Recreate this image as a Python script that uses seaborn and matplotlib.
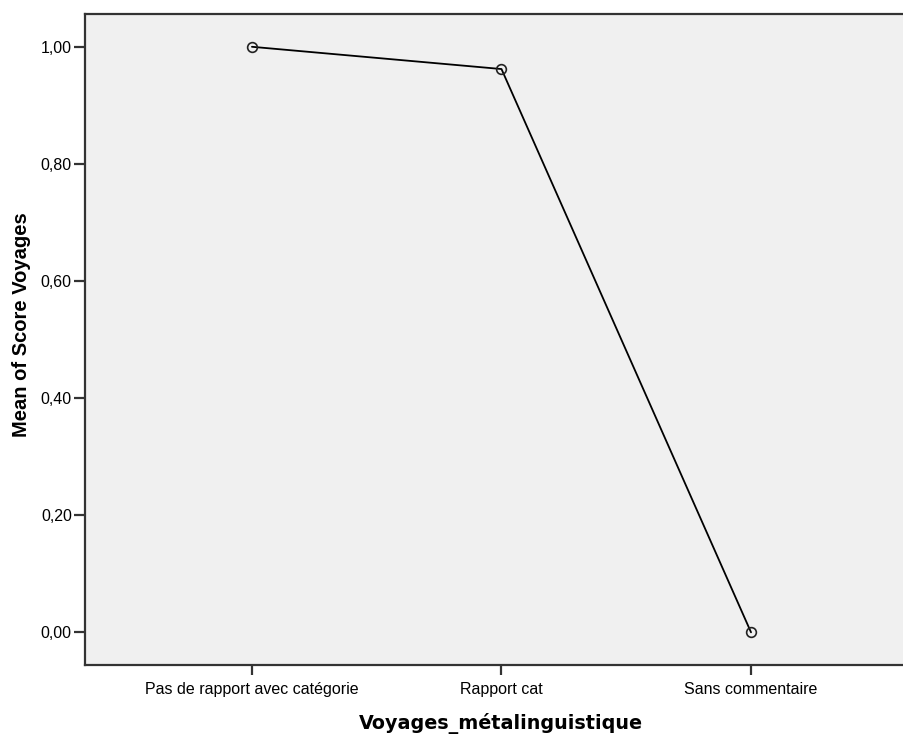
import matplotlib
matplotlib.use("Agg")
import matplotlib.pyplot as plt
import seaborn as sns
import pandas as pd

categories = ["Pas de rapport avec catégorie", "Rapport cat", "Sans commentaire"]
means = [1.00, 0.962, 0.00]
yticks = [0.0, 0.2, 0.4, 0.6, 0.8, 1.0]
ytick_labels = ["0,00", "0,20", "0,40", "0,60", "0,80", "1,00"]

sns.set_style("white")
plt.rcParams["font.family"] = ["Liberation Sans", "DejaVu Sans"]
plt.rcParams["text.color"] = "black"
plt.rcParams["axes.labelcolor"] = "black"

df = pd.DataFrame({"cat": categories, "val": means})

fig = plt.figure(figsize=(9.04, 7.36), dpi=100)
ax = fig.add_axes([85/904, (736-665)/736, (904-85)/904, (665-14)/736])
ax.set_facecolor("#f0f0f0")

sns.lineplot(data=df, x="cat", y="val", ax=ax, color="black", linewidth=1.3,
             marker="o", markersize=7, markerfacecolor="none",
             markeredgecolor="#222222", markeredgewidth=1.2, sort=False)

ax.set_xlim(-0.669, 2.613)
ax.set_ylim(-0.0558, 1.056)
ax.set_yticks(yticks)
ax.set_yticklabels(ytick_labels)
ax.set_xticks(range(len(categories)))
ax.set_xticklabels(categories)

for s in ["left", "bottom", "top"]:
    ax.spines[s].set_color("#333333")
    ax.spines[s].set_linewidth(1.6)
ax.spines["right"].set_visible(False)

ax.tick_params(axis="both", direction="out", width=1.6, color="#333333",
               labelsize=11.5, labelcolor="black", bottom=True, left=True)
ax.tick_params(axis="y", length=8, pad=1.5)
ax.tick_params(axis="x", length=7, pad=5)

ax.set_xlabel("Voyages_métalinguistique", fontsize=13.8, fontweight="bold",
              family=["DejaVu Sans"])
ax.set_ylabel("Mean of Score Voyages", fontsize=14.5, fontweight="bold")
ax.xaxis.set_label_coords((501 - 85) / 819, -(723 - 665) / 651)
ax.yaxis.set_label_coords(-(85 - 22) / 819, (665 - 325) / 651)
ax.xaxis.label.set_verticalalignment("center")
ax.yaxis.label.set_verticalalignment("center")

fig.savefig("out.png", dpi=100)
